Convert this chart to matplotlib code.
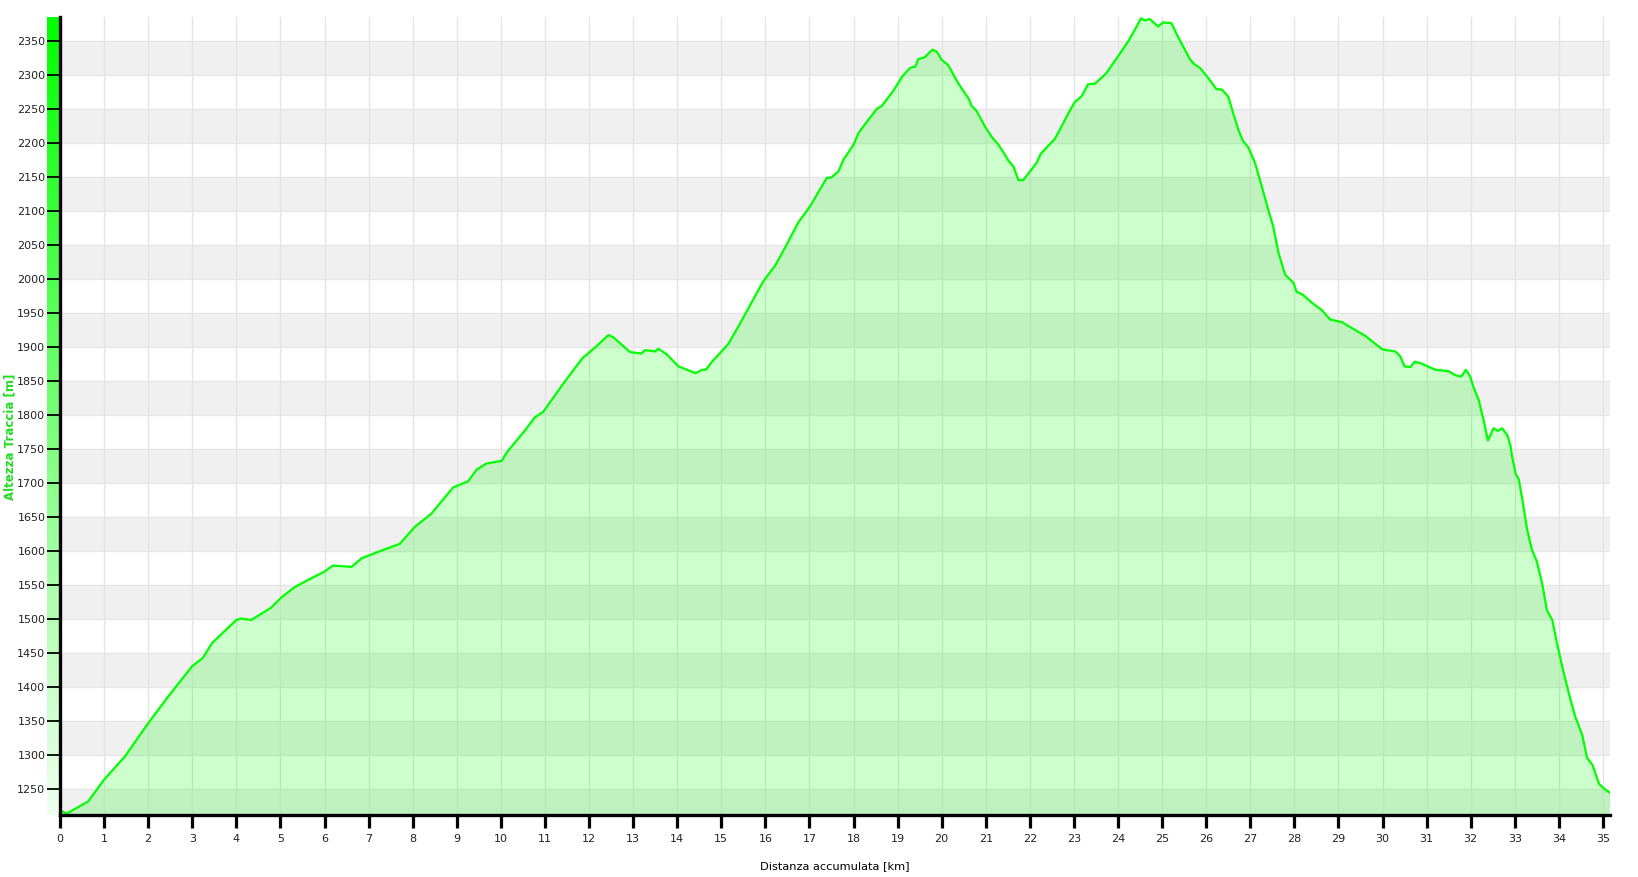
import numpy as np
import matplotlib
matplotlib.use("Agg")
from matplotlib import pyplot as plt

# elevation profile
km = [0.0, 0.15, 0.64, 1.0, 1.47, 2.0, 2.45, 3.0, 3.24, 3.45, 4.0, 4.1, 4.34, 4.79,
      5.02, 5.32, 5.63, 6.0, 6.19, 6.61, 6.85, 7.29, 7.71, 8.05, 8.42, 8.92, 9.26,
      9.45, 9.67, 10.02, 10.13, 10.55, 10.77, 10.96, 11.42, 11.85, 12.14, 12.44,
      12.55, 12.93, 13.19, 13.27, 13.5, 13.57, 13.76, 14.03, 14.22, 14.42, 14.56,
      14.65, 14.78, 15.16, 15.46, 15.73, 15.95, 16.22, 16.45, 16.75, 17.01, 17.39,
      17.5, 17.66, 17.77, 18.0, 18.11, 18.34, 18.53, 18.64, 18.91, 19.1, 19.28,
      19.4, 19.47, 19.62, 19.79, 19.89, 20.0, 20.15, 20.38, 20.61, 20.68, 20.79,
      20.98, 21.13, 21.29, 21.44, 21.51, 21.63, 21.74, 21.85, 21.97, 22.15, 22.25,
      22.57, 22.72, 22.87, 23.02, 23.17, 23.32, 23.48, 23.73, 24.0, 24.23, 24.38,
      24.52, 24.61, 24.72, 24.91, 25.02, 25.21, 25.36, 25.64, 25.74, 25.86, 26.05,
      26.23, 26.36, 26.5, 26.61, 26.73, 26.84, 26.95, 27.11, 27.26, 27.41, 27.52,
      27.64, 27.79, 27.98, 28.05, 28.2, 28.39, 28.62, 28.81, 29.08, 29.34, 29.61,
      29.8, 30.0, 30.29, 30.4, 30.5, 30.63, 30.73, 30.89, 31.2, 31.5, 31.65, 31.79,
      31.89, 31.99, 32.07, 32.18, 32.3, 32.39, 32.52, 32.62, 32.71, 32.83, 32.9,
      32.94, 33.02, 33.09, 33.17, 33.28, 33.39, 33.5, 33.62, 33.73, 33.85, 33.96,
      34.08, 34.23, 34.38, 34.53, 34.64, 34.76, 34.91, 35.02, 35.15]
alt = [1219, 1214, 1232, 1264, 1298, 1347, 1386, 1431, 1443, 1465, 1499, 1501, 1499,
       1517, 1532, 1547, 1558, 1570, 1579, 1577, 1590, 1601, 1611, 1636, 1655, 1694,
       1703, 1720, 1729, 1733, 1745, 1778, 1797, 1805, 1847, 1884, 1900, 1918, 1915,
       1893, 1891, 1896, 1894, 1898, 1890, 1872, 1867, 1862, 1867, 1867, 1878, 1905,
       1939, 1971, 1997, 2020, 2047, 2084, 2107, 2149, 2150, 2159, 2176, 2198, 2215,
       2235, 2251, 2255, 2278, 2298, 2311, 2313, 2324, 2327, 2338, 2335, 2323, 2315,
       2288, 2266, 2255, 2248, 2225, 2210, 2198, 2183, 2175, 2166, 2146, 2146, 2156,
       2171, 2185, 2207, 2225, 2244, 2261, 2269, 2287, 2288, 2303, 2328, 2350, 2367,
       2384, 2381, 2383, 2372, 2378, 2377, 2357, 2323, 2316, 2311, 2296, 2280, 2279,
       2269, 2245, 2220, 2203, 2195, 2171, 2137, 2102, 2078, 2039, 2007, 1995, 1982,
       1977, 1966, 1955, 1941, 1937, 1927, 1917, 1907, 1897, 1894, 1887, 1872, 1871,
       1879, 1876, 1867, 1865, 1859, 1857, 1867, 1857, 1840, 1823, 1791, 1763, 1781,
       1777, 1781, 1771, 1756, 1739, 1714, 1706, 1677, 1632, 1602, 1585, 1553, 1513,
       1499, 1464, 1429, 1390, 1355, 1330, 1296, 1286, 1258, 1251, 1245]

x_ticks = list(range(0, 36))
y_ticks = list(range(1250, 2351, 50))
y_min, y_max = 1212, 2386
x_max = 35.16

W, H = 1638, 877
fig = plt.figure(figsize=(W / 100, H / 100), dpi=100)
L, R, T, B = 60, 1610, 17, 815
ax = fig.add_axes([L / W, 1 - B / H, (R - L) / W, (B - T) / H])

# grey / white bands
for lo in range(1200, 2400, 100):
    ax.axhspan(max(lo, y_min), lo + 50, color="#f0f0f0", lw=0, zorder=0)
for y in y_ticks:
    ax.axhline(y, color="#e6e6e6", lw=1, zorder=0.5)
for x in x_ticks:
    ax.axvline(x, color="#e4e4e4", lw=1, zorder=0.5)

ax.fill_between(km, alt, y_min, color=(0, 1, 0), alpha=0.2, lw=0, zorder=1)
ax.plot(km, alt, color="#00ff00", lw=1.6, zorder=2, solid_joinstyle="round")

ax.set_xlim(0, x_max)
ax.set_ylim(y_min, y_max)
ax.set_xticks(x_ticks)
ax.set_yticks(y_ticks)
ax.tick_params(axis="x", length=9.5, width=2.3, color="black", pad=4,
               labelsize=8, labelcolor="#222222")
ax.tick_params(axis="y", length=9.5, width=1.3, color="black", pad=1,
               labelsize=8, labelcolor="#222222")
for s in ["top", "right"]:
    ax.spines[s].set_visible(False)
ax.spines["left"].set_linewidth(2.4)
ax.spines["bottom"].set_linewidth(2.4)
ax.spines["left"].set_zorder(5)
ax.spines["bottom"].set_zorder(5)

# green gradient strip left of the y axis
bar = fig.add_axes([47 / W, 1 - B / H, 12 / W, (B - T) / H], zorder=-1)
t = np.linspace(0, 1, 256)[:, None]
grad = np.dstack([t * 0.94, np.ones_like(t), t * 0.94])
bar.imshow(grad, aspect="auto", extent=[0, 1, 0, 1])
bar.axis("off")

fig.text(835 / W, 1 - 866 / H, "Distanza accumulata [km]", ha="center", va="center",
         fontsize=8.2, color="#000000")
fig.text(10 / W, 1 - 437 / H, "Altezza Traccia [m]", ha="center", va="center",
         rotation=90, fontsize=8.5, fontweight="bold", color="#22dd22")

fig.savefig("out.png", dpi=100)
